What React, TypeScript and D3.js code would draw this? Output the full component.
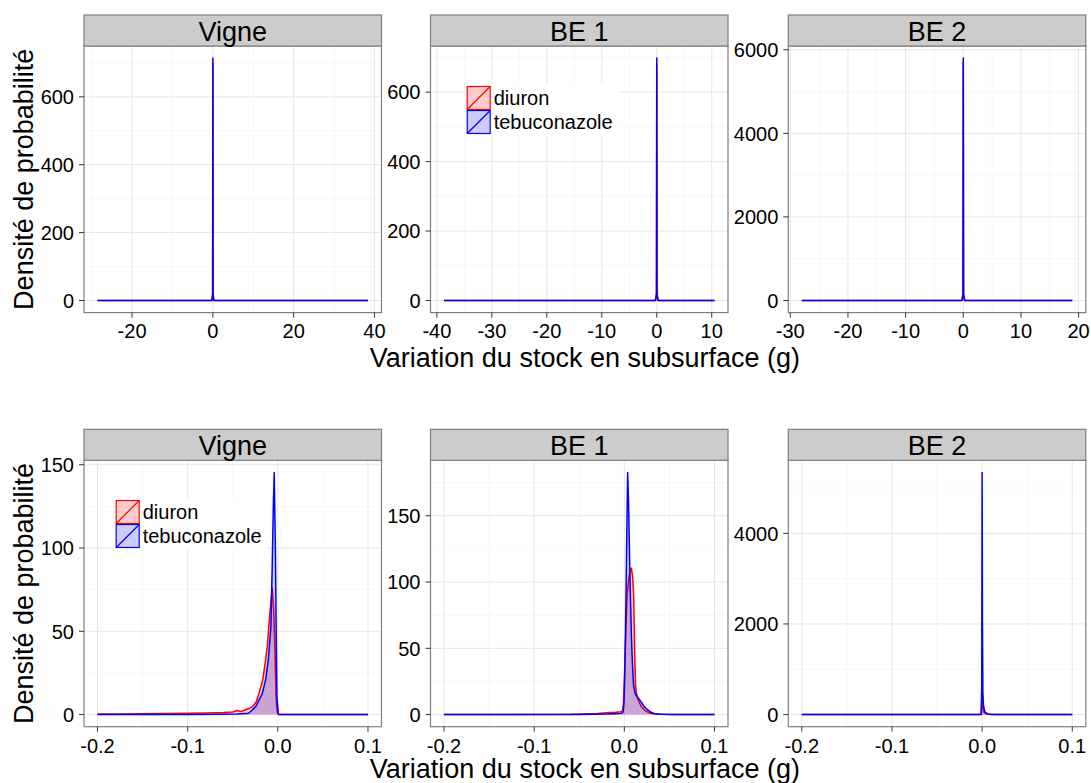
import React from 'react';
import * as d3 from 'd3';

type Pt = [number, number];

// ---------- labels ----------
const seriesNames = ['diuron', 'tebuconazole'];
const seriesColors = ['#ff0000', '#0000ff'];
const panelTitles = ['Vigne', 'BE 1', 'BE 2'];
const yAxisTitle = 'Densité de probabilité';
const xAxisTitle = 'Variation du stock en subsurface (g)';

// ---------- top row data (x in g, density) ----------
const topVigneDiuron: Pt[] = [[-28.55, 0], [-0.25, 0], [-0.05, 15], [0, 700], [0.05, 15], [0.25, 0], [38.4, 0]];
const topVigneTebu: Pt[] = [[-28.55, 0], [-0.25, 0], [-0.05, 20], [0, 714], [0.05, 20], [0.25, 0], [38.4, 0]];
const topBE1Diuron: Pt[] = [[-38.7, 0], [-0.25, 0], [-0.05, 15], [0, 680], [0.05, 15], [0.25, 0], [10.5, 0]];
const topBE1Tebu: Pt[] = [[-38.7, 0], [-0.25, 0], [-0.05, 20], [0, 698], [0.05, 20], [0.25, 0], [10.5, 0]];
const topBE2Diuron: Pt[] = [[-28.0, 0], [-0.25, 0], [-0.05, 120], [0, 5700], [0.05, 120], [0.25, 0], [18.9, 0]];
const topBE2Tebu: Pt[] = [[-28.0, 0], [-0.25, 0], [-0.05, 150], [0, 5800], [0.05, 150], [0.25, 0], [18.9, 0]];

// ---------- bottom row data ----------
const botVigneDiuron: Pt[] = [
  [-0.2, 0.3], [-0.18, 0.4], [-0.15, 0.5], [-0.12, 0.6], [-0.1, 0.8], [-0.08, 1.0], [-0.06, 1.3],
  [-0.05, 1.6], [-0.045, 2.4], [-0.041, 1.9], [-0.034, 3.2], [-0.0284, 4.6], [-0.024, 7.5],
  [-0.021, 12.6], [-0.017, 20], [-0.0136, 32.5], [-0.0115, 42], [-0.01, 52.5], [-0.0085, 63],
  [-0.0062, 76], [-0.0045, 62], [-0.003, 35], [-0.002, 12], [-0.001, 3], [0.0, 0.5], [0.002, 0], [0.1, 0],
];
const botVigneTebu: Pt[] = [
  [-0.2, 0], [-0.15, 0.05], [-0.1, 0.1], [-0.06, 0.2], [-0.045, 0.4], [-0.0324, 0.8], [-0.0247, 4.6],
  [-0.0173, 12.6], [-0.0135, 21], [-0.0106, 32.5], [-0.0077, 52.5], [-0.0062, 90], [-0.005, 125],
  [-0.004, 145.4], [-0.0027, 100], [-0.0018, 50], [-0.001, 10], [0.0005, 1], [0.001, 0], [0.1, 0],
];
const botBE1Diuron: Pt[] = [
  [-0.2, 0], [-0.06, 0.2], [-0.03, 0.8], [-0.02, 1.4], [-0.01, 1.8], [-0.004, 2.2], [-0.002, 3],
  [-0.001, 8], [0.0, 25], [0.0015, 60], [0.003, 90], [0.0048, 102], [0.0065, 109], [0.0078, 110.5],
  [0.0092, 104], [0.0103, 91], [0.011, 65], [0.0117, 40], [0.0125, 22], [0.014, 14], [0.016, 10],
  [0.019, 6], [0.023, 3], [0.028, 1.2], [0.035, 0.4], [0.05, 0.1], [0.1, 0],
];
const botBE1Tebu: Pt[] = [
  [-0.2, 0], [-0.05, 0.1], [-0.02, 0.4], [-0.01, 0.7], [-0.003, 1], [-0.0014, 2], [-0.0005, 8],
  [0.0, 16], [0.001, 50], [0.0019, 91], [0.003, 150], [0.0037, 182.7], [0.0047, 160], [0.0058, 120],
  [0.0067, 91], [0.0078, 60], [0.009, 38], [0.0103, 22], [0.012, 16], [0.0137, 14], [0.016, 12],
  [0.0193, 9], [0.022, 6], [0.0252, 4], [0.029, 2], [0.033, 0.8], [0.04, 0.3], [0.06, 0.1], [0.1, 0],
];
const botBE2Diuron: Pt[] = [
  [-0.2, 0], [-0.001, 0], [-0.0003, 200], [0.0, 535], [0.0006, 300], [0.0012, 120], [0.002, 60],
  [0.004, 20], [0.008, 5], [0.015, 1], [0.1, 0],
];
const botBE2Tebu: Pt[] = [
  [-0.2, 0], [-0.0012, 0], [-0.0004, 600], [0.0, 5344], [0.0004, 2000], [0.0008, 500], [0.0015, 200],
  [0.003, 60], [0.006, 15], [0.01, 3], [0.02, 0.5], [0.1, 0],
];

// ---------- ticks ----------
const topXTicks = [[-20, 0, 20, 40], [-40, -30, -20, -10, 0, 10], [-30, -20, -10, 0, 10, 20]];
const topYTicks = [[0, 200, 400, 600], [0, 200, 400, 600], [0, 2000, 4000, 6000]];
const botXTicks = [[-0.2, -0.1, 0.0, 0.1], [-0.2, -0.1, 0.0, 0.1], [-0.2, -0.1, 0.0, 0.1]];
const botYTicks = [[0, 50, 100, 150], [0, 50, 100, 150], [0, 2000, 4000]];

// ---------- layout (pixels) ----------
const W = 1091, H = 783;
const panelLefts = [84, 430.5, 788.3];
const panelWidth = 297.5;
const rows = [
  { stripTop: 15, plotTop: 46, plotBottom: 312.6, titleBaseline: 366.5, xTickBaseline: 338.3, legend: { col: 1, x: 466.7, y: 86 } },
  { stripTop: 429.3, plotTop: 460.3, plotBottom: 726.7, titleBaseline: 777.5, xTickBaseline: 752.7, legend: { col: 0, x: 115.7, y: 500 } },
];
const FONT = '"Liberation Sans", Arial, Helvetica, sans-serif';
const GRID_MAJOR = '#e6e6e6';
const GRID_MINOR = '#f7f7f7';
const BORDER = '#7f7f7f';

const rowData: Pt[][][] = [
  [[topVigneDiuron, topVigneTebu], [topBE1Diuron, topBE1Tebu], [topBE2Diuron, topBE2Tebu]],
  [[botVigneDiuron, botVigneTebu], [botBE1Diuron, botBE1Tebu], [botBE2Diuron, botBE2Tebu]],
];
const rowXTicks = [topXTicks, botXTicks];
const rowYTicks = [topYTicks, botYTicks];

function minorBreaks(ticks: number[], domain: number[]) {
  const step = ticks[1] - ticks[0];
  const out: number[] = [];
  for (let i = -1; i < ticks.length; i++) {
    const v = ticks[0] + step * (i + 0.5);
    if (v > domain[0] && v < domain[1]) out.push(v);
  }
  return out;
}

function fmtX(v: number, row: number) {
  if (row === 1) return d3.format('.1f')(v).replace('−', '-');
  return String(v);
}

function Panel({ r, c }: { r: number; c: number }) {
  const row = rows[r];
  const series = rowData[r][c];
  const all = series.flat();
  const xMin = d3.min(all, d => d[0])!;
  const xMax = d3.max(all, d => d[0])!;
  const yMax = d3.max(all, d => d[1])!;
  const xPad = (xMax - xMin) * 0.05;
  const yPad = yMax * 0.05;
  const left = panelLefts[c];
  const right = left + panelWidth;
  const x = d3.scaleLinear().domain([xMin - xPad, xMax + xPad]).range([left, right]);
  const y = d3.scaleLinear().domain([-yPad, yMax + yPad]).range([row.plotBottom, row.plotTop]);
  const xt = rowXTicks[r][c];
  const yt = rowYTicks[r][c];
  const xMinor = minorBreaks(xt, x.domain());
  const yMinor = minorBreaks(yt, y.domain());
  const area = d3.area<Pt>().x(d => x(d[0])).y0(y(0)).y1(d => y(d[1]));
  const line = d3.line<Pt>().x(d => x(d[0])).y(d => y(d[1]));
  const top = row.plotTop, bottom = row.plotBottom;
  return (
    <g>
      <rect x={left} y={top} width={panelWidth} height={bottom - top} fill="#fff" />
      {xMinor.map((v, i) => <line key={'xm' + i} x1={x(v)} x2={x(v)} y1={top} y2={bottom} stroke={GRID_MINOR} strokeWidth={1} />)}
      {yMinor.map((v, i) => <line key={'ym' + i} x1={left} x2={right} y1={y(v)} y2={y(v)} stroke={GRID_MINOR} strokeWidth={1} />)}
      {xt.map((v, i) => <line key={'xg' + i} x1={x(v)} x2={x(v)} y1={top} y2={bottom} stroke={GRID_MAJOR} strokeWidth={1} />)}
      {yt.map((v, i) => <line key={'yg' + i} x1={left} x2={right} y1={y(v)} y2={y(v)} stroke={GRID_MAJOR} strokeWidth={1} />)}
      {series.map((s, i) => (
        <g key={'s' + i}>
          <path d={area(s)!} fill={seriesColors[i]} fillOpacity={0.2} stroke="none" />
          <path d={line(s)!} fill="none" stroke={seriesColors[i]} strokeWidth={1.5} strokeLinejoin="round" />
        </g>
      ))}
      <rect x={left} y={top} width={panelWidth} height={bottom - top} fill="none" stroke={BORDER} strokeWidth={1.2} />
      {/* strip */}
      <rect x={left} y={row.stripTop} width={panelWidth} height={top - row.stripTop} fill="#cccccc" stroke={BORDER} strokeWidth={1.2} />
      <text x={(left + right) / 2} y={row.stripTop + 26} textAnchor="middle" fontSize={27} fontFamily={FONT} fill="#000">{panelTitles[c]}</text>
      {/* axes */}
      {xt.map((v, i) => (
        <g key={'xt' + i}>
          <line x1={x(v)} x2={x(v)} y1={bottom} y2={bottom + 5} stroke="#333" strokeWidth={1} />
          <text x={x(v)} y={row.xTickBaseline} textAnchor="middle" fontSize={20} fontFamily={FONT} fill="#000">{fmtX(v, r)}</text>
        </g>
      ))}
      {yt.map((v, i) => (
        <g key={'yt' + i}>
          <line x1={left - 5} x2={left} y1={y(v)} y2={y(v)} stroke="#333" strokeWidth={1} />
          <text x={left - 10} y={y(v)} dy="0.36em" textAnchor="end" fontSize={20} fontFamily={FONT} fill="#000">{v}</text>
        </g>
      ))}
    </g>
  );
}

function Legend({ r }: { r: number }) {
  const lg = rows[r].legend;
  const key = 24;
  return (
    <g>
      <rect x={lg.x - 2} y={lg.y - 2} width={key + 130} height={key * 2 + 4} fill="#fff" />
      {seriesNames.map((name, i) => {
        const ky = lg.y + i * key;
        return (
          <g key={name}>
            <rect x={lg.x} y={ky} width={key} height={key} fill="#fff" />
            <rect x={lg.x + 0.5} y={ky + 0.5} width={key - 1} height={key - 1} fill={seriesColors[i]} fillOpacity={0.2} stroke={seriesColors[i]} strokeWidth={1.2} />
            <line x1={lg.x + 0.5} y1={ky + key - 0.5} x2={lg.x + key - 0.5} y2={ky + 0.5} stroke={seriesColors[i]} strokeWidth={1.2} />
            <text x={lg.x + key + 3} y={ky + key / 2} dy="0.36em" fontSize={20} fontFamily={FONT} fill="#000">{name}</text>
          </g>
        );
      })}
    </g>
  );
}

export default function App() {
  const centerX = (panelLefts[0] + panelLefts[2] + panelWidth) / 2;
  return (
    <svg width={W} height={H} style={{ position: 'absolute', left: 0, top: 0, background: '#fff' }}>
      <rect x={0} y={0} width={W} height={H} fill="#fff" />
      {rows.map((row, r) => (
        <g key={r}>
          {panelTitles.map((_, c) => <Panel key={c} r={r} c={c} />)}
          <Legend r={r} />
          <text transform={`translate(32.5, ${(row.plotTop + row.plotBottom) / 2}) rotate(-90)`} textAnchor="middle" fontSize={27} fontFamily={FONT} fill="#000">{yAxisTitle}</text>
          <text x={centerX} y={row.titleBaseline} textAnchor="middle" fontSize={27} fontFamily={FONT} fill="#000">{xAxisTitle}</text>
        </g>
      ))}
    </svg>
  );
}
